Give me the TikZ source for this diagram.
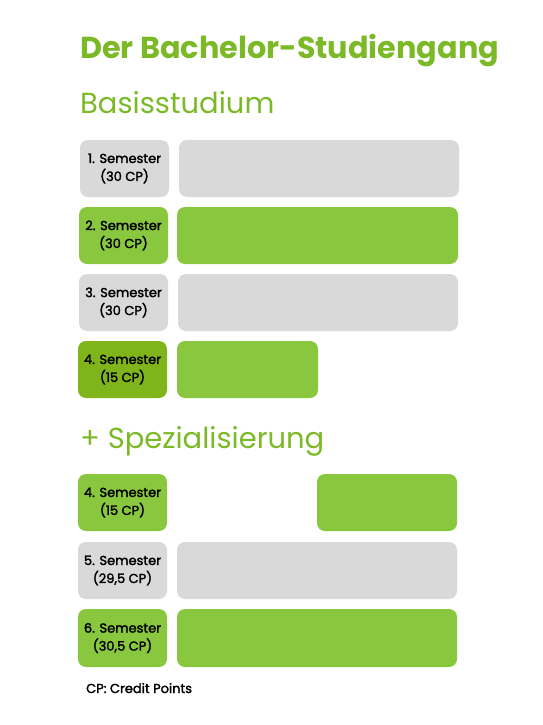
\documentclass[tikz,border=0pt]{standalone}
\usepackage{fontspec}
\setmainfont{Poppins}
\newfontfamily\medfont{Poppins}[FakeBold=2]
\definecolor{boxgray}{HTML}{D9D9D9}
\definecolor{boxgreen}{HTML}{89C73F}
\definecolor{boxdark}{HTML}{7FB51B}
\definecolor{titlegreen}{HTML}{7CB927}
\begin{document}
\begin{tikzpicture}[x=1pt,y=-1pt,
  cell/.style={rectangle, rounded corners=8pt, inner sep=0pt, outer sep=0pt, anchor=north west, minimum height=57pt},
  semlabel/.style={cell, minimum width=89pt, align=center, font=\fontsize{13}{18}\selectfont\medfont, text=black},
  heading/.style={anchor=base west, inner sep=0pt, text=titlegreen}]
\useasboundingbox (0,0) rectangle (543,725);
\node[heading, font=\fontsize{30.3}{34}\selectfont\bfseries] (title) at (80,59) {Der Bachelor-Studiengang};
\node[heading, font=\fontsize{29}{34}\selectfont] (basis) at (80,113) {Basisstudium};
% Row 1
\node[semlabel, fill=boxgray] (l1) at (80,140) {1. Semester\\(30 CP)};
\node[cell, fill=boxgray, minimum width=280pt] (r1) at (179,140) {};
% Row 2
\node[semlabel, fill=boxgreen] (l2) at (79,207) {2. Semester\\(30 CP)};
\node[cell, fill=boxgreen, minimum width=281pt] (r2) at (177,207) {};
% Row 3
\node[semlabel, fill=boxgray] (l3) at (79,274) {3. Semester\\(30 CP)};
\node[cell, fill=boxgray, minimum width=280pt] (r3) at (178,274) {};
% Row 4
\node[semlabel, fill=boxdark] (l4) at (78,341) {4. Semester\\(15 CP)};
\node[cell, fill=boxgreen, minimum width=141pt] (r4) at (177,341) {};
\node[heading, font=\fontsize{29}{34}\selectfont] (spez) at (80,448) {+ Spezialisierung};
% Row 5
\node[semlabel, fill=boxgreen] (l5) at (78,474) {4. Semester\\(15 CP)};
\node[cell, fill=boxgreen, minimum width=140pt] (r5) at (317,474) {};
% Row 6
\node[semlabel, fill=boxgray] (l6) at (78,542) {5. Semester\\(29,5 CP)};
\node[cell, fill=boxgray, minimum width=280pt] (r6) at (177,542) {};
% Row 7
\node[semlabel, fill=boxgreen, minimum height=58pt] (l7) at (78,609) {6. Semester\\(30,5 CP)};
\node[cell, fill=boxgreen, minimum width=280pt, minimum height=58pt] (r7) at (177,609) {};
\node[anchor=base west, inner sep=0pt, font=\fontsize{13}{15}\selectfont\medfont] (note) at (86,693) {CP: Credit Points};
\end{tikzpicture}
\end{document}
